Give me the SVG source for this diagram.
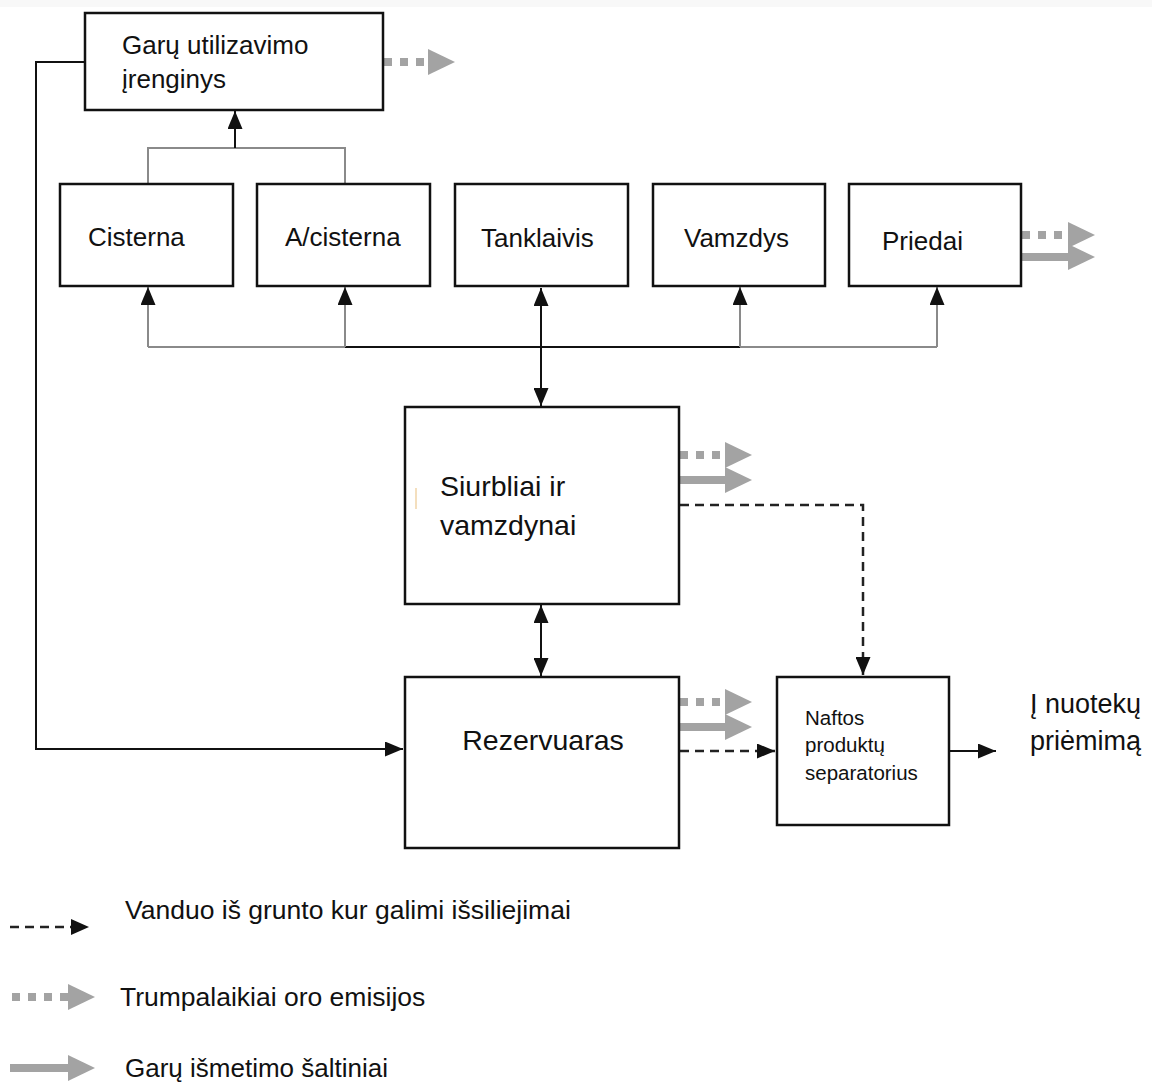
<svg xmlns="http://www.w3.org/2000/svg" width="1152" height="1083" viewBox="0 0 1152 1083">
  <defs>
    <style>
      .box { fill: #ffffff; stroke: #111111; stroke-width: 2.5; }
      .lbl { font-family: "Liberation Sans", Arial, sans-serif; fill: #111111; }
      .link { fill: none; stroke: #111111; stroke-width: 2; }
      .bus { fill: none; stroke: #8a8a8a; stroke-width: 2; }
      .wet { fill: none; stroke: #222222; stroke-width: 2.5; stroke-dasharray: 9 6; }
      .fug { fill: none; stroke: #a3a3a3; stroke-width: 8; stroke-dasharray: 8 8; }
      .vent { fill: none; stroke: #a3a3a3; stroke-width: 8; }
    </style>
    <!-- black arrowhead -->
    <marker id="ah" markerUnits="userSpaceOnUse" markerWidth="18" markerHeight="15" refX="18" refY="7.5" orient="auto-start-reverse">
      <path d="M0,0 L18,7.5 L0,15 Z" fill="#111111"/>
    </marker>
    <!-- grey broad arrowhead, placed at the end of the shaft -->
    <marker id="gh" markerUnits="userSpaceOnUse" markerWidth="27" markerHeight="26" refX="0" refY="13" orient="auto">
      <path d="M0,0 L27,13 L0,26 Z" fill="#a3a3a3"/>
    </marker>
  </defs>

  <rect x="0" y="0" width="1152" height="1083" fill="#ffffff"/>
  <rect x="0" y="0" width="1152" height="7" fill="#f8f8f8"/>

  <!-- connectors -->
  <g id="connectors">
    <!-- vapour recovery return line to the reservoir -->
    <path class="link" d="M85,62 H36 V749 H403" stroke-width="2.5" marker-end="url(#ah)"/>
    <!-- collection from the two tank types to the recovery unit -->
    <path class="bus" d="M148,184 V148 H345 V184"/>
    <path class="link" d="M235,148 V111" marker-end="url(#ah)"/>
    <!-- distribution bus to the loading points -->
    <path class="bus" d="M148,347 H937"/>
    <path class="link" d="M345,347 H740" stroke="#444444"/>
    <path class="bus" d="M148,347 V287" marker-end="url(#ah)"/>
    <path class="bus" d="M345,347 V287" marker-end="url(#ah)"/>
    <path class="bus" d="M740,347 V287" marker-end="url(#ah)"/>
    <path class="bus" d="M937,347 V287" marker-end="url(#ah)"/>
    <path class="link" d="M541,288 V406" marker-start="url(#ah)" marker-end="url(#ah)"/>
    <!-- pumps to reservoir -->
    <path class="link" d="M541,605 V676" marker-start="url(#ah)" marker-end="url(#ah)"/>
    <!-- ground water / spill lines -->
    <path class="wet" d="M680,505 H863 V675" marker-end="url(#ah)"/>
    <path class="wet" d="M680,751 H775" marker-end="url(#ah)"/>
    <path class="link" d="M950,751 H996" marker-end="url(#ah)"/>
    <!-- emissions -->
    <path class="fug" d="M384,62 H428" marker-end="url(#gh)"/>
    <path class="fug" d="M1022,235 H1068" marker-end="url(#gh)"/>
    <path class="vent" d="M1022,257 H1068" marker-end="url(#gh)"/>
    <path class="fug" d="M680,455 H725" marker-end="url(#gh)"/>
    <path class="vent" d="M680,480 H725" marker-end="url(#gh)"/>
    <path class="fug" d="M680,702 H725" marker-end="url(#gh)"/>
    <path class="vent" d="M680,727 H725" marker-end="url(#gh)"/>
  </g>

  <!-- nodes -->
  <g id="vapour-recovery">
    <rect class="box" x="85" y="13" width="298" height="97"/>
    <text class="lbl" x="122" y="54" font-size="26">Garų utilizavimo</text>
    <text class="lbl" x="122" y="88" font-size="26">įrenginys</text>
  </g>
  <g id="cisterna">
    <rect class="box" x="60" y="184" width="173" height="102"/>
    <text class="lbl" x="88" y="246" font-size="26">Cisterna</text>
  </g>
  <g id="a-cisterna">
    <rect class="box" x="257" y="184" width="173" height="102"/>
    <text class="lbl" x="285" y="246" font-size="26">A/cisterna</text>
  </g>
  <g id="tanklaivis">
    <rect class="box" x="455" y="184" width="173" height="102"/>
    <text class="lbl" x="481" y="247" font-size="26">Tanklaivis</text>
  </g>
  <g id="vamzdys">
    <rect class="box" x="653" y="184" width="172" height="102"/>
    <text class="lbl" x="684" y="247" font-size="26">Vamzdys</text>
  </g>
  <g id="priedai">
    <rect class="box" x="849" y="184" width="172" height="102"/>
    <text class="lbl" x="882" y="250" font-size="26">Priedai</text>
  </g>
  <g id="siurbliai">
    <rect class="box" x="405" y="407" width="274" height="197"/>
    <line x1="416" y1="488" x2="416" y2="509" stroke="#f0d4a8" stroke-width="1.5"/>
    <text class="lbl" x="440" y="496" font-size="28.5">Siurbliai ir</text>
    <text class="lbl" x="440" y="535" font-size="28.5">vamzdynai</text>
  </g>
  <g id="rezervuaras">
    <rect class="box" x="405" y="677" width="274" height="171"/>
    <text class="lbl" x="543" y="750" font-size="28.5" text-anchor="middle">Rezervuaras</text>
  </g>
  <g id="separatorius">
    <rect class="box" x="777" y="677" width="172" height="148"/>
    <text class="lbl" x="805" y="725" font-size="20.5">Naftos</text>
    <text class="lbl" x="805" y="752" font-size="20.5">produktų</text>
    <text class="lbl" x="805" y="780" font-size="20.5">separatorius</text>
  </g>
  <g id="nuotekos">
    <text class="lbl" x="1030" y="713" font-size="27">Į nuotekų</text>
    <text class="lbl" x="1030" y="750" font-size="27">priėmimą</text>
  </g>

  <!-- legend -->
  <g id="legend">
    <path class="wet" d="M10,927 H72" stroke-width="2" stroke-dasharray="7 5" stroke="#666666"/>
    <path d="M71,919 L89,927 L71,935 Z" fill="#111111"/>
    <text class="lbl" x="125" y="919" font-size="26.5">Vanduo iš grunto kur galimi išsiliejimai</text>
    <path class="fug" d="M12,997 H68" marker-end="url(#gh)"/>
    <text class="lbl" x="120" y="1006" font-size="26.5">Trumpalaikiai oro emisijos</text>
    <path class="vent" d="M10,1068 H68" marker-end="url(#gh)"/>
    <text class="lbl" x="125" y="1077" font-size="26">Garų išmetimo šaltiniai</text>
  </g>
</svg>
